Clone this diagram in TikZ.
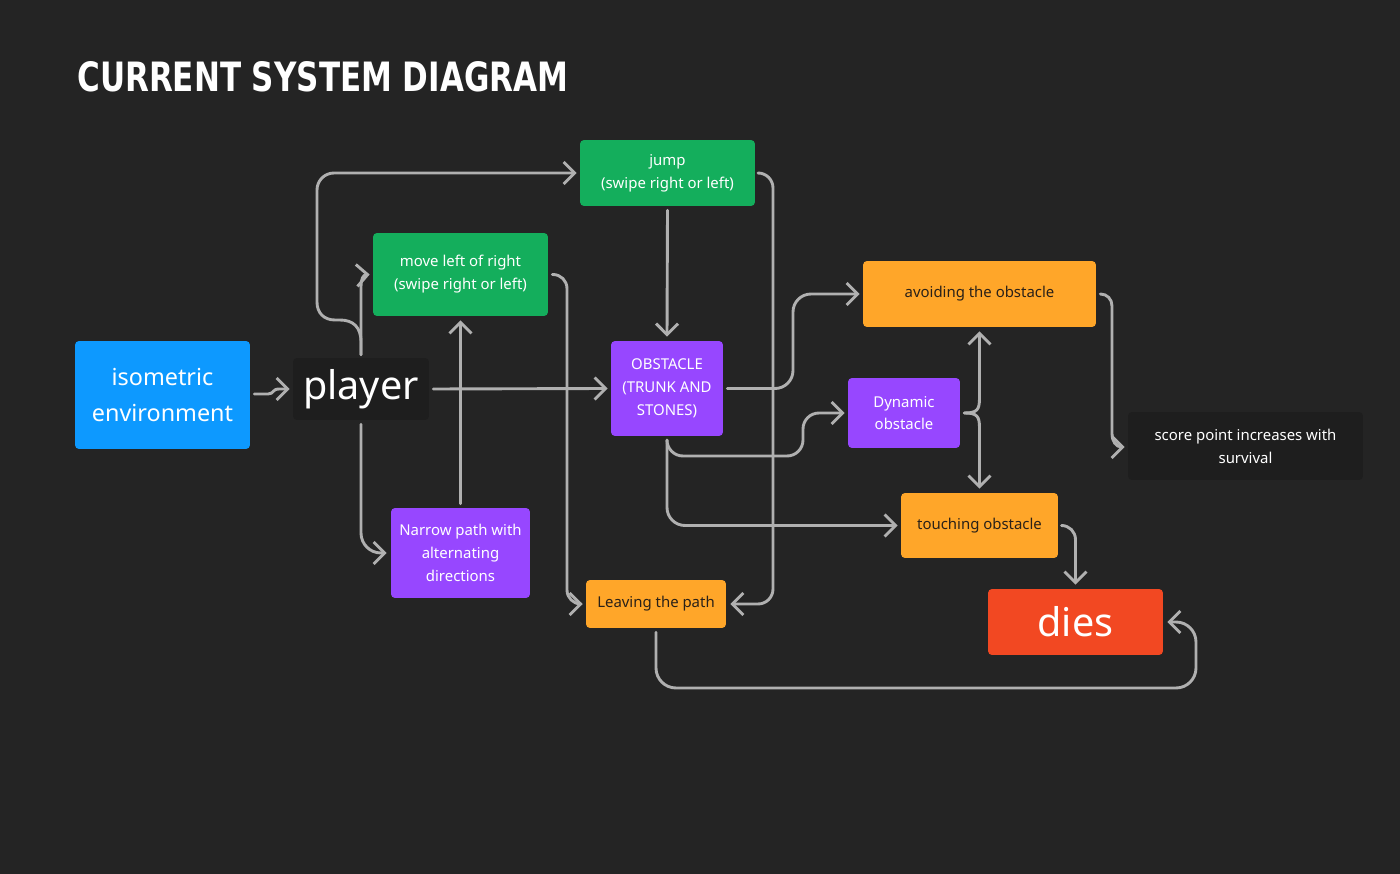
\documentclass[tikz,border=0pt]{standalone}
\usepackage{fontspec}
\setmainfont{Noto Sans}
\usetikzlibrary{arrows.meta,calc}
\definecolor{bgC}{HTML}{242424}
\definecolor{darkC}{HTML}{1E1E1E}
\definecolor{blueC}{HTML}{0D99FF}
\definecolor{greenC}{HTML}{14AE5C}
\definecolor{purpleC}{HTML}{9747FF}
\definecolor{orangeC}{HTML}{FFA629}
\definecolor{redC}{HTML}{F24822}
\definecolor{lineC}{HTML}{B0B0B0}
\definecolor{inkC}{HTML}{2A2118}
\begin{document}
\begin{tikzpicture}[x=0.02cm,y=-0.02cm,
  box/.style={rounded corners=0.08cm, inner sep=0pt, align=center, text=white,
    font=\fontsize{8.5}{13}\selectfont},
  conn/.style={draw=lineC, line width=0.058cm, line cap=round, line join=round,
    -{Straight Barb[length=0.22cm,width=0.44cm]}}]
\fill[bgC] (0,0) rectangle (1400,874);
\useasboundingbox (0,0) rectangle (1400,874);

\node[anchor=west, text=white, inner sep=0pt] (title) at (77,77)
  {\resizebox{9.82cm}{0.6cm}{\fontspec{DejaVu Sans}\bfseries CURRENT SYSTEM DIAGRAM}};

\node[box, fill=blueC, minimum width=3.5cm, minimum height=2.16cm,
  font=\fontsize{13.3}{20.5}\selectfont] (iso) at (162.5,395) {isometric\\environment};
\node[box, fill=darkC, minimum width=2.72cm, minimum height=1.24cm,
  font=\fontsize{22.5}{26}\selectfont] (player) at (361,389) {player};
\node[box, fill=greenC, minimum width=3.5cm, minimum height=1.32cm] (jump) at (667.5,173) {jump\\(swipe right or left)};
\node[box, fill=greenC, minimum width=3.5cm, minimum height=1.66cm] (move) at (460.5,274.5) {move left of right\\(swipe right or left)};
\node[box, fill=purpleC, minimum width=2.24cm, minimum height=1.9cm] (obs) at (667,388.5) {OBSTACLE\\(TRUNK AND\\STONES)};
\node[box, fill=orangeC, text=inkC, minimum width=4.66cm, minimum height=1.32cm] (avoid) at (979.5,294) {avoiding the obstacle};
\node[box, fill=purpleC, minimum width=2.24cm, minimum height=1.4cm] (dyn) at (904,413) {Dynamic\\obstacle};
\node[box, fill=darkC, minimum width=4.7cm, minimum height=1.36cm] (score) at (1245.5,446) {score point increases with\\survival};
\node[box, fill=orangeC, text=inkC, minimum width=3.14cm, minimum height=1.3cm] (touch) at (979.5,525.5) {touching obstacle};
\node[box, fill=redC, minimum width=3.5cm, minimum height=1.32cm,
  font=\fontsize{22.5}{26}\selectfont] (dies) at (1075.5,622) {dies};
\node[box, fill=purpleC, minimum width=2.78cm, minimum height=1.8cm] (narrow) at (460.5,553) {Narrow path with\\alternating\\directions};
\node[box, fill=orangeC, text=inkC, minimum width=2.8cm, minimum height=0.96cm] (leave) at (656,604) {Leaving the path};

% connectors
\draw[conn] ($(iso.east)+(4,-1)$) -- (268,394) .. controls (274,394) and (272,389) .. (279,389) -- ($(player.west)+(-3,0)$);
\draw[conn] ($(player.north)+(0,-3)$) -- (361,342) .. controls (361,327) and (353,320) .. (340,320) -- (335,320) .. controls (324,320) and (317,313) .. (317,302) -- (317,190) .. controls (317,180.6) and (324.6,173) .. (334,173) -- ($(jump.west)+(-3,0)$);
\draw[conn] ($(player.north)+(0,-3)$) -- (361,287) .. controls (361,279) and (363,275) .. ($(move.west)+(-3,0)$);
\draw[conn] ($(player.east)+(4,0)$) -- ($(obs.west)+(-3,0)$);
\draw[conn, rounded corners=0.4cm] ($(player.south)+(0,4)$) -- (361,553) -- ($(narrow.west)+(-4,0)$);
\draw[conn] ($(narrow.north)+(0,-4)$) -- ($(move.south)+(0,4)$);
\draw[conn, rounded corners=0.28cm] ($(move.east)+(4,0)$) -- (567,274.5) -- (567,604) -- ($(leave.west)+(-3,0)$);
\draw[conn] ($(jump.south)+(0,4)$) -- ($(obs.north)+(0,-4)$);
\draw[conn, rounded corners=0.3cm] ($(jump.east)+(4,0)$) -- (773,173) -- (773,604) -- ($(leave.east)+(4,0)$);
\draw[conn, rounded corners=0.36cm] ($(obs.east)+(4,0)$) -- (793,388.5) -- (793,294) -- ($(avoid.west)+(-3,0)$);
\draw[conn, rounded corners=0.32cm] ($(obs.south)+(0,4)$) -- (667,456) -- (803,456) -- (803,413) -- ($(dyn.west)+(-3,0)$);
\draw[conn, rounded corners=0.36cm] ($(obs.south)+(0,4)$) -- (667,525.5) -- ($(touch.west)+(-3,0)$);
\draw[conn] ($(dyn.east)+(4,0)$) .. controls (977,413) and (979.5,410) .. (979.5,398) -- ($(avoid.south)+(0,4)$);
\draw[conn] ($(dyn.east)+(4,0)$) .. controls (977,413) and (979.5,416) .. (979.5,428) -- ($(touch.north)+(0,-4)$);
\draw[conn] ($(avoid.east)+(4,0)$) .. controls (1107,294) and (1112,299) .. (1112,306) -- (1112,434) .. controls (1112,441) and (1116,447) .. ($(score.west)+(-3,1)$);
\draw[conn, rounded corners=0.28cm] ($(touch.east)+(4,0)$) -- (1075.5,525.5) -- ($(dies.north)+(0,-4)$);
\draw[conn, rounded corners=0.4cm] ($(leave.south)+(0,4)$) -- (656,688) -- (1196,688) -- (1196,622) -- ($(dies.east)+(4,0)$);
\end{tikzpicture}
\end{document}
